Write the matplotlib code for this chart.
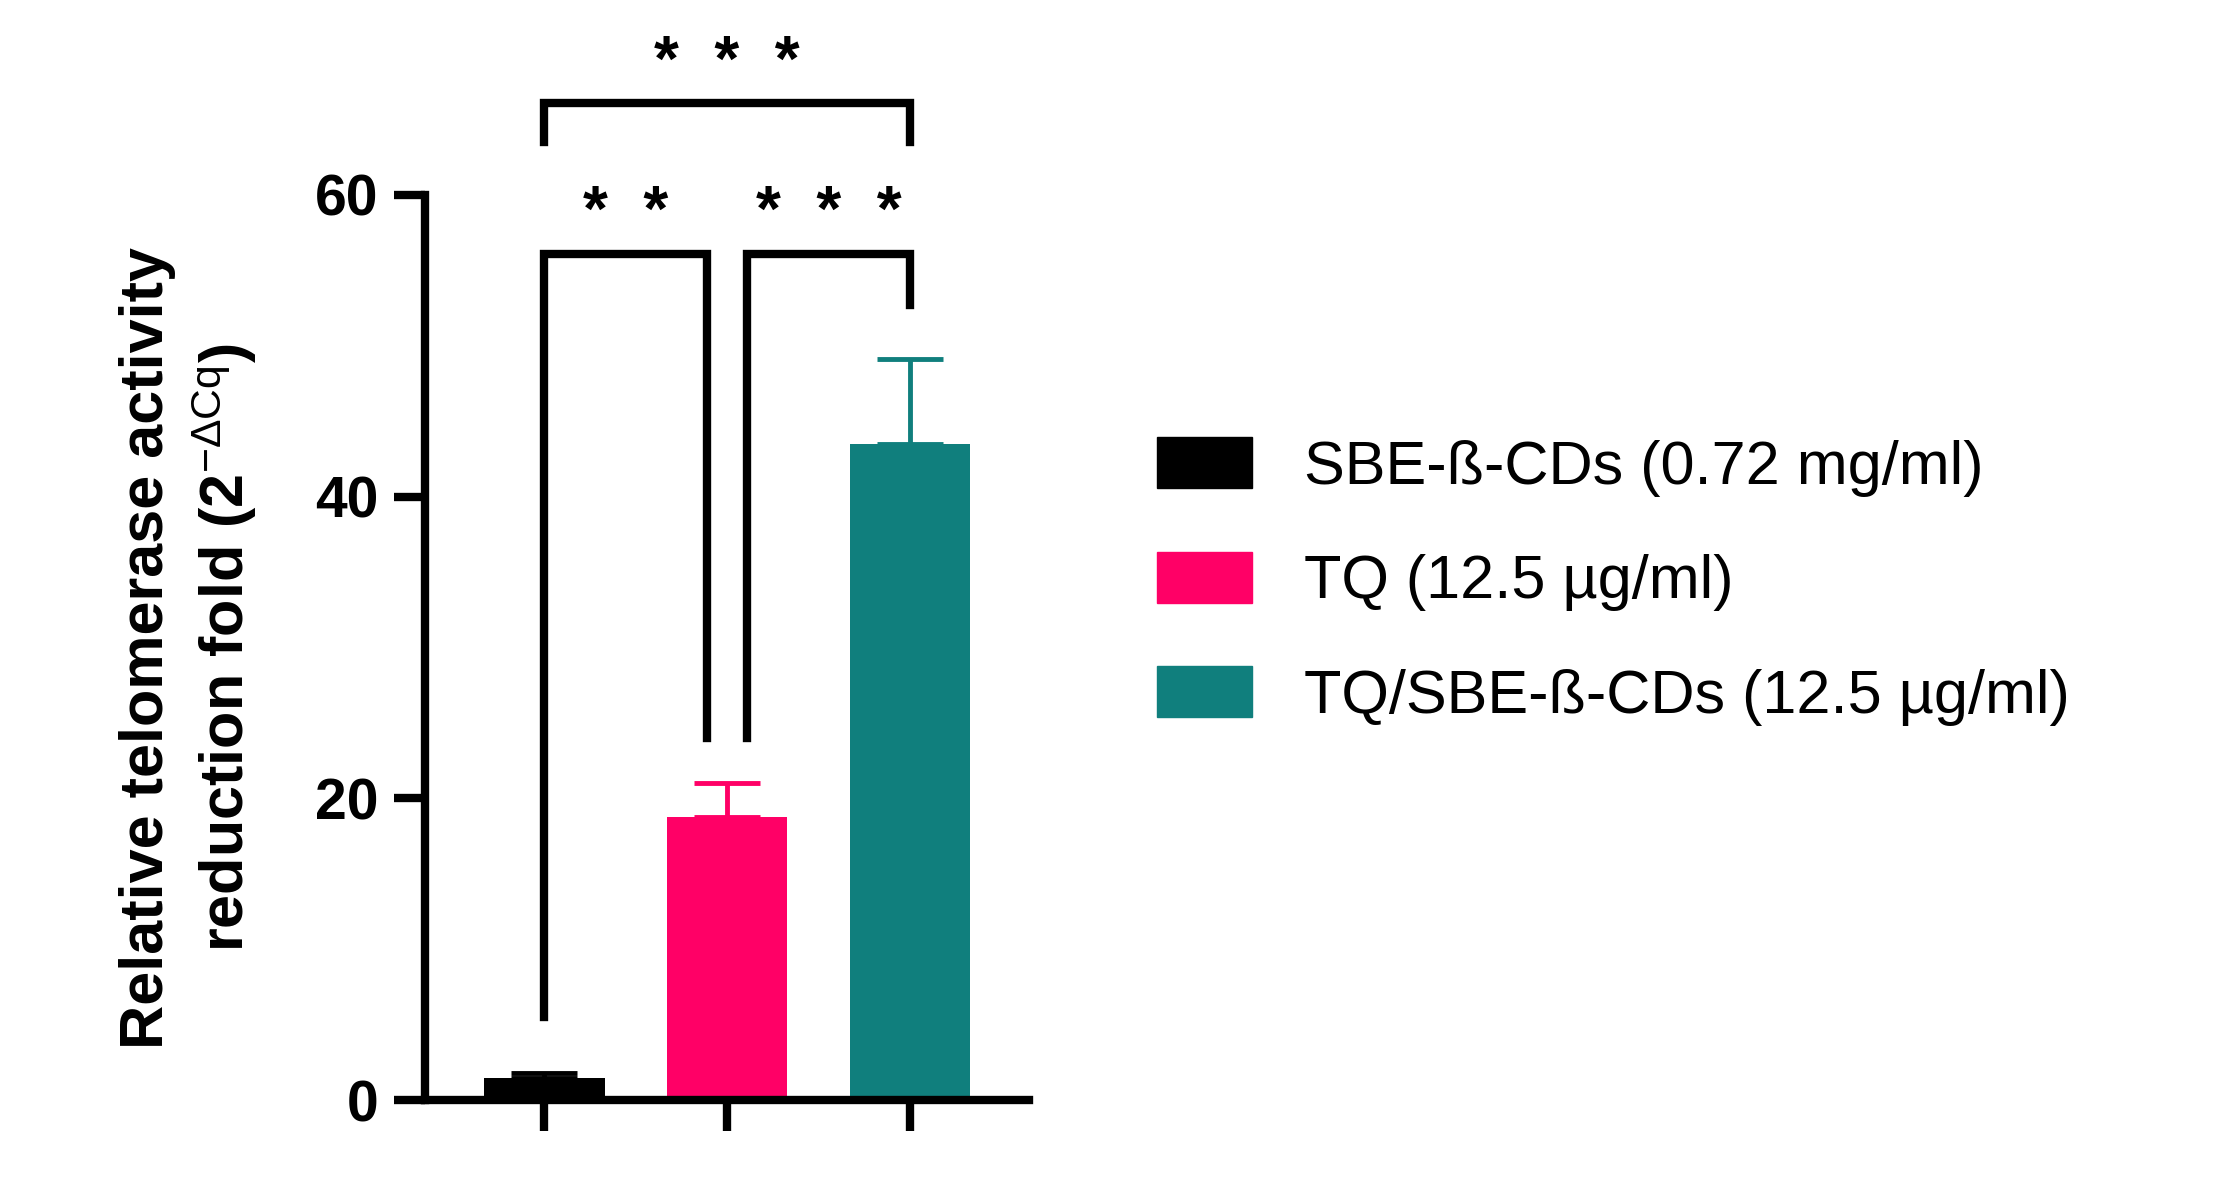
import matplotlib
matplotlib.use("Agg")
import matplotlib.pyplot as plt
from matplotlib.patches import Patch

plt.rcParams['font.family'] = ['Liberation Sans', 'DejaVu Sans']
plt.rcParams['mathtext.fontset'] = 'custom'
plt.rcParams['mathtext.rm'] = 'Liberation Sans'
plt.rcParams['mathtext.it'] = 'Liberation Sans'
plt.rcParams['mathtext.bf'] = 'Liberation Sans:bold'

# data
groups = ["SBE-ß-CDs (0.72 mg/ml)", "TQ (12.5 µg/ml)", "TQ/SBE-ß-CDs (12.5 µg/ml)"]
means = [1.5, 18.8, 43.5]
sems = [0.3, 2.2, 5.6]
colors = ["#000000", "#ff0066", "#107f7d"]

# significance brackets: (x1, x2, height, left leg end, right leg end, label)
brackets = [(0, 1, 56.1, 5.5, 24.0, "*  *"),
            (1, 2, 56.1, 24.0, 52.7, "*  *  *"),
            (0, 2, 66.1, 63.5, 63.5, "*  *  *")]

fig = plt.figure(figsize=(22.27, 11.87), dpi=100)
ax = fig.add_axes([0.191, 0.073, 0.271, 0.763])
lw = 6
x = [0, 1, 2]
ax.bar(x, means, width=0.66, color=colors)
for xi, m, s, c in zip(x, means, sems, colors):
    ax.errorbar(xi, m, yerr=[[0], [s]], color=c, capsize=24, elinewidth=3.5, capthick=3.5)

ax.set_xlim(-0.65, 2.65)
ax.set_ylim(0, 60)
ax.set_yticks([0, 20, 40, 60])
ax.set_xticks(x)
ax.set_xticklabels([])
ax.spines['top'].set_visible(False)
ax.spines['right'].set_visible(False)
ax.spines['left'].set_linewidth(lw)
ax.spines['bottom'].set_linewidth(lw)
ax.tick_params(width=lw, length=22, labelsize=41, pad=12)
for t in ax.get_yticklabels():
    t.set_fontweight('bold')
ax.set_ylabel("Relative telomerase activity\nreduction fold (2$^{-\\Delta Cq}$)",
              fontsize=44, fontweight='bold', labelpad=40, linespacing=1.25)

off = 0.11
for x1, x2, h, l1, l2, lab in brackets:
    a = x1 + (off if (x1 == 1) else 0)
    b = x2 - (off if (x2 == 1) else 0)
    ax.plot([a, a, b, b], [l1, h, h, l2], color='k', lw=lw, clip_on=False,
            solid_joinstyle='miter')
    ax.text((a + b) / 2, h + 0.6, lab, ha='center', va='bottom', fontsize=46,
            fontweight='bold')

handles = [Patch(color=c) for c in colors]
fig.legend(handles, groups, loc='center left', bbox_to_anchor=(0.495, 0.51),
           frameon=False, fontsize=44, handlelength=1.55, handleheight=0.9,
           handletextpad=0.85, labelspacing=0.9)

fig.savefig("out.png", dpi=100)
